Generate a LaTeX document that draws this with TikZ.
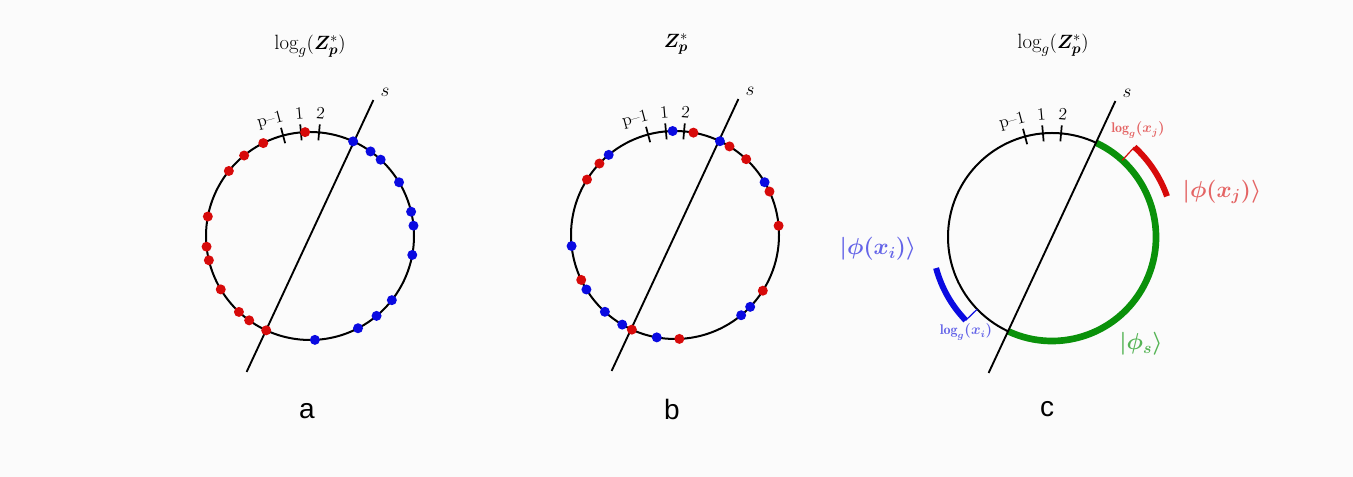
\documentclass[tikz,border=0pt]{standalone}
\usepackage{amsmath,bm}
\usepackage{fontspec}
\newfontfamily\panelfont{Liberation Sans}
\begin{document}
\begin{tikzpicture}[x=0.75pt,y=0.75pt]
\definecolor{dred}{RGB}{215,10,10}
\definecolor{dblue}{RGB}{10,10,225}
\definecolor{dgreen}{RGB}{10,145,10}
\definecolor{lred}{RGB}{228,100,100}
\definecolor{lblue}{RGB}{100,100,232}
\definecolor{lgreen}{RGB}{85,180,85}
\definecolor{bgc}{RGB}{251,251,251}
\tikzset{
  ring/.style={line width=1.5pt},
  sline/.style={line width=1.4pt},
  tickmark/.style={line width=1.3pt},
  ticklab/.style={font=\fontsize{13}{13}\selectfont, inner sep=0pt},
  slab/.style={font=\fontsize{15}{15}\selectfont, inner sep=0pt},
  titlelab/.style={font=\fontsize{15.5}{15.5}\selectfont, inner sep=0pt},
  letterlab/.style={font=\panelfont\fontsize{21}{21}\selectfont, inner sep=0pt},
  biglab/.style={font=\fontsize{17}{17}\selectfont\boldmath, inner sep=0pt},
  smalllab/.style={font=\fontsize{10.5}{10.5}\selectfont\boldmath, inner sep=0pt},
  rdot/.style={fill=dred},
  bdot/.style={fill=dblue}
}
\fill[bgc] (0,0) rectangle (1353,477);
\useasboundingbox (0,0) rectangle (1353,477);

% common skeleton: circle, ticks, labels, line s
\newcommand\skeleton[1]{%
  \coordinate (#1-c) at (0,0);
  \draw[ring] (#1-c) circle (104);
  \foreach \ang/\nm in {105/pm, 95/one, 85/two}{
    \coordinate (#1-\nm-in) at (\ang:96);
    \coordinate (#1-\nm-out) at (\ang:112);
    \draw[tickmark] (#1-\nm-in) -- (#1-\nm-out);
  }
  \node[ticklab, rotate=15] (#1-pmlab) at (109:122) {p--1};
  \node[ticklab, rotate=5] (#1-onelab) at (95:123) {1};
  \node[ticklab, rotate=-5] (#1-twolab) at (85:123) {2};
  \node[slab] (#1-slab) at (75,144) {$s$};
}
\newcommand\sline[1]{%
  \coordinate (#1-s1) at (245:150);
  \coordinate (#1-s2) at (65:150);
  \draw[sline] (#1-s1) -- (#1-s2);
}

% ---------- panel a ----------
\begin{scope}[shift={(310,241)}]
  \skeleton{a}
  \sline{a}
  \foreach \ang in {92.7,116.7,129.3,141.3,169.2,185.9,193.5,210.9,226.9,234.2,245.1}
    \fill[rdot] (\ang:104) circle (5);
  \foreach \ang in {65.5,54.4,47.2,31.1,13.5,5.7,-10.5,-38.1,-50.2,-62.5,-87.3}
    \fill[bdot] (\ang:104) circle (5);
  \node[titlelab] (a-title) at (0,190) {$\log_g(\bm{Z}_{\bm{p}}^{*})$};
  \node[letterlab] (a-letter) at (-3,-175) {a};
\end{scope}

% ---------- panel b ----------
\begin{scope}[shift={(675,242)}]
  \skeleton{b}
  \sline{b}
  \foreach \ang in {79.8,58.4,46.8,24.7,5.1,-32.4,-87.6,245.5,205.6,147.8,136.6}
    \fill[rdot] (\ang:104) circle (5);
  \foreach \ang in {91.3,64.4,30.5,-43.7,-50.5,259.9,239.5,227.6,211.6,186.1,129.6}
    \fill[bdot] (\ang:104) circle (5);
  \node[titlelab] (b-title) at (1,191) {$\bm{Z}_{\bm{p}}^{*}$};
  \node[letterlab] (b-letter) at (-3,-174) {b};
\end{scope}

% ---------- panel c ----------
\begin{scope}[shift={(1052,240)}]
  \skeleton{c}
  \coordinate (c-g1) at (65:104);
  \draw[dgreen, line width=5pt] (c-g1) arc[start angle=65, end angle=-115, radius=104];
  \sline{c}
  % red bracket
  \coordinate (c-r0) at (47.5:104);
  \coordinate (c-r1) at (47.5:122);
  \draw[dred, line width=0.9pt] (c-r0) -- (c-r1);
  \draw[dred, line width=4.5pt] (c-r1) arc[start angle=47.5, end angle=19.5, radius=122];
  % blue bracket
  \coordinate (c-b0) at (224:104);
  \coordinate (c-b1) at (224:120);
  \draw[dblue, line width=0.9pt] (c-b0) -- (c-b1);
  \draw[dblue, line width=4.5pt] (c-b1) arc[start angle=224, end angle=195, radius=120];
  \node[smalllab, text=lred] (c-logj) at (86,107) {$\log_g(x_j)$};
  \node[biglab, text=lred] (c-phij) at (170,45) {$|\phi(x_j)\rangle$};
  \node[biglab, text=lblue] (c-phii) at (-174,-12) {$|\phi(x_i)\rangle$};
  \node[smalllab, text=lblue] (c-logi) at (-86,-95) {$\log_g(x_i)$};
  \node[biglab, text=lgreen] (c-phis) at (89,-107) {$|\phi_s\rangle$};
  \node[titlelab] (c-title) at (1,192) {$\log_g(\bm{Z}_{\bm{p}}^{*})$};
  \node[letterlab] (c-letter) at (-5,-172) {c};
\end{scope}
\end{tikzpicture}
\end{document}
